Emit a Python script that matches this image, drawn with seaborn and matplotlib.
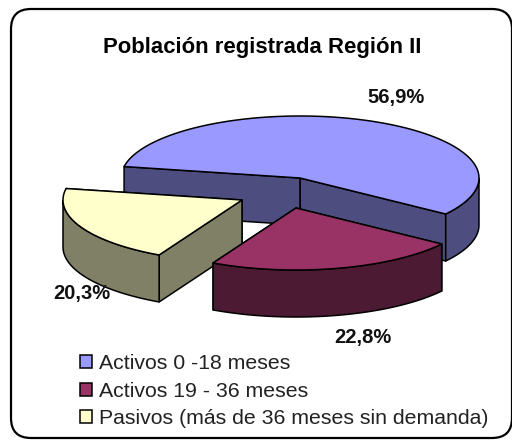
import numpy as np
import matplotlib
matplotlib.use('Agg')
import matplotlib.pyplot as plt
import matplotlib.patches as patches
import seaborn as sns

# datos del grafico
categorias = ['Activos 0 -18 meses', 'Activos 19 - 36 meses', 'Pasivos (más de 36 meses sin demanda)']
valores = [56.9, 22.8, 20.3]
etiquetas = ['56,9%', '22,8%', '20,3%']
titulo = 'Población registrada Región II'

colores_top = ['#9999FF', '#993366', '#FFFFCC']
colores_lado = ['#4D4D80', '#4D1A33', '#808066']

sns.set_theme(style='white')
plt.rcParams['font.family'] = ['Liberation Sans', 'DejaVu Sans']

# pie "3D": elipse y profundidad en pixeles de la figura
RX, RY, DEPTH = 179, 62, 47
ANGULO_INICIAL = -35.5
CENTROS = [(300, 178), (296, 208), (242, 200)]
POS_ETIQUETAS = [(396, 98), (363, 337), (82, 293)]


def punto(c, t, dz=0):
    return c[0] + RX * np.cos(t), c[1] - RY * np.sin(t) + dz


def dibujar_porcion(ax, c, t0, t1, top, lado):
    estilo = dict(edgecolor='black', linewidth=1.1, joinstyle='round')
    # caras de corte
    for t in (t0, t1):
        x, y = punto(c, t)
        quad = [c, (x, y), (x, y + DEPTH), (c[0], c[1] + DEPTH)]
        ax.add_patch(patches.Polygon(quad, facecolor=lado, **estilo))
    # borde exterior, solo la parte de adelante
    ts = np.linspace(t0, t1, 200)
    ts = ts[np.sin(ts) <= 0]
    if len(ts) > 1:
        xs, ys = punto(c, ts)
        cara = np.column_stack([np.r_[xs, xs[::-1]], np.r_[ys, ys[::-1] + DEPTH]])
        ax.add_patch(patches.Polygon(cara, facecolor=lado, **estilo))
    # tapa
    ts = np.linspace(t0, t1, 200)
    xs, ys = punto(c, ts)
    tapa = np.vstack([[c], np.column_stack([xs, ys])])
    ax.add_patch(patches.Polygon(tapa, facecolor=top, **estilo))


fig = plt.figure(figsize=(5.12, 4.41), dpi=100)
ax = fig.add_axes([0, 0, 1, 1])
ax.set_xlim(0, 512)
ax.set_ylim(441, 0)
ax.axis('off')

marco = patches.FancyBboxPatch((31, 29), 461, 389, boxstyle='round,pad=20,rounding_size=20',
                               facecolor='white', edgecolor='black', linewidth=1.6, clip_on=False)
ax.add_patch(marco)

barridos = np.radians(np.array(valores) / 100 * 360)
inicio = np.radians(ANGULO_INICIAL)
rangos = [
    (inicio, inicio + barridos[0]),
    (inicio - barridos[1], inicio),
    (inicio - barridos[1] - barridos[2], inicio - barridos[1]),
]
for i in [0, 2, 1]:
    dibujar_porcion(ax, CENTROS[i], rangos[i][0], rangos[i][1], colores_top[i], colores_lado[i])

for (x, y), txt in zip(POS_ETIQUETAS, etiquetas):
    ax.text(x, y, txt, ha='center', va='center', fontsize=14.5, fontweight='bold', color='#111111')

ax.text(262, 48, titulo, ha='center', va='center', fontsize=15.9, fontweight='bold', color='black')

handles = [patches.Patch(facecolor=c, edgecolor='black', linewidth=1.1) for c in colores_top]
ax.legend(handles, categorias, loc='upper left', bbox_to_anchor=(80 / 512, 1 - 354 / 441),
          frameon=False, fontsize=15.3, handlelength=0.57, handleheight=0.57, handletextpad=0.33,
          labelspacing=0.41, borderpad=0, borderaxespad=0, labelcolor='#222222')

plt.savefig('out.png', dpi=100)
